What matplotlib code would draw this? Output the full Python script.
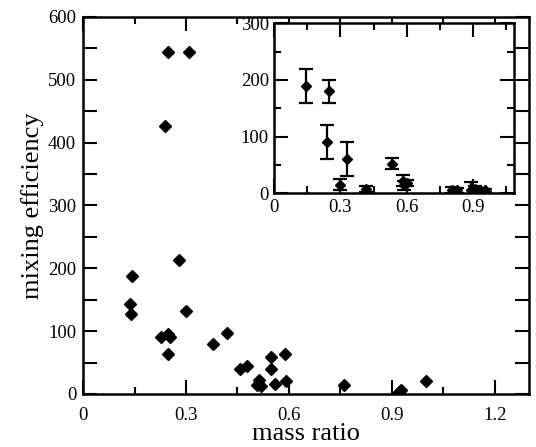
import numpy as np
import matplotlib
matplotlib.use("Agg")
import matplotlib.pyplot as plt
from matplotlib.ticker import MultipleLocator

# main panel: mass ratio vs mixing efficiency
mass_ratio = [0.249, 0.310, 0.239, 0.280, 0.142, 0.137, 0.139, 0.300,
              0.228, 0.249, 0.252, 0.249, 0.379, 0.419, 0.458, 0.478,
              0.512, 0.507, 0.520, 0.549, 0.549, 0.559, 0.590, 0.592,
              0.760, 0.926, 0.922, 1.001]
mixing_eff = [544, 544, 427, 213, 188, 144, 128, 132,
              90, 95, 90, 64, 80, 97, 40, 45,
              23, 14, 13, 59, 40, 16, 64, 21,
              15, 6, 3, 20]

# inset: values with error bars
inset_q = [0.143, 0.249, 0.238, 0.329, 0.299, 0.417, 0.536, 0.585,
           0.590, 0.600, 0.806, 0.829, 0.894, 0.912, 0.935, 0.957]
inset_eff = [190, 180, 90, 60, 15, 7, 52, 22,
             14, 18, 6, 5, 5, 7, 6, 5]
inset_err = [30, 20, 30, 30, 10, 5, 10, 10,
             8, 5, 5, 5, 15, 5, 4, 3]

plt.rcParams['font.family'] = ['Liberation Serif', 'DejaVu Serif']

fig = plt.figure(figsize=(5.36, 4.47), dpi=100)
ax = fig.add_axes([0.155, 0.1186, 0.832, 0.8434])
ax.plot(mass_ratio, mixing_eff, 'D', color='black', markersize=6.2, linestyle='none')
ax.set_xlim(0, 1.3)
ax.set_ylim(0, 600)
ax.set_xticks([0, 0.3, 0.6, 0.9, 1.2])
ax.set_xticklabels(['0', '0.3', '0.6', '0.9', '1.2'])
ax.xaxis.set_minor_locator(MultipleLocator(0.15))
ax.yaxis.set_major_locator(MultipleLocator(100))
ax.yaxis.set_minor_locator(MultipleLocator(50))
ax.tick_params(which='both', direction='in', top=True, right=True,
               width=1.5, labelsize=13.5)
ax.tick_params(axis='y', which='both', length=10, pad=5)
ax.tick_params(axis='x', which='major', length=10, pad=9.5)
ax.tick_params(axis='x', which='minor', length=5)
for s in ax.spines.values():
    s.set_linewidth(1.8)
ax.set_xlabel('mass ratio', fontsize=19, labelpad=-1)
ax.set_ylabel('mixing efficiency', fontsize=19, labelpad=3)

# inset
axi = fig.add_axes([0.512, 0.5676, 0.4478, 0.3803])
axi.errorbar(inset_q, inset_eff, yerr=inset_err, fmt='D', color='black',
             markersize=4.8, capsize=5, elinewidth=1.6, capthick=1.6)
axi.set_xlim(0, 1.09)
axi.set_ylim(0, 300)
axi.set_xticks([0, 0.3, 0.6, 0.9])
axi.set_xticklabels(['0', '0.3', '0.6', '0.9'])
axi.xaxis.set_minor_locator(MultipleLocator(0.15))
axi.yaxis.set_major_locator(MultipleLocator(100))
axi.yaxis.set_minor_locator(MultipleLocator(50))
axi.tick_params(which='both', direction='in', top=True, right=True,
                width=1.5, labelsize=13.5, pad=4)
axi.tick_params(which='major', length=10)
axi.tick_params(which='minor', length=5)
for s in axi.spines.values():
    s.set_linewidth(1.8)

fig.savefig('out.png', dpi=100)
